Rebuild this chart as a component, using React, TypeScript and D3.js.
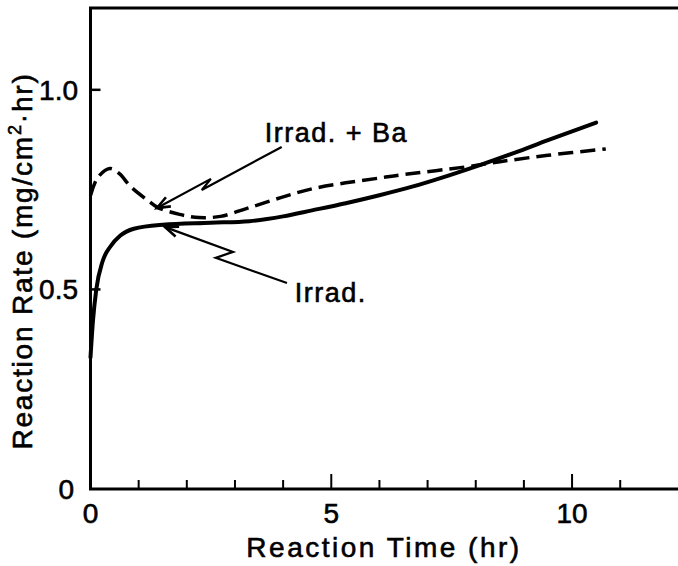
import React from "react";
import * as d3 from "d3";

// Irrad. (solid)
const irradT = [0, 0.05, 0.12, 0.25, 0.41, 0.62, 0.9, 1.5, 2.5, 3.3, 4.0, 4.6, 5.3, 6.0, 6.7, 7.4, 8.1, 8.8, 9.5, 10.5];
const irradV = [0.33, 0.42, 0.5, 0.57, 0.607, 0.635, 0.652, 0.662, 0.667, 0.671, 0.683, 0.698, 0.716, 0.736, 0.758, 0.784, 0.812, 0.842, 0.874, 0.918];

// Irrad. + Ba (dashed)
const baT = [0, 0.15, 0.4, 0.6, 0.83, 1.2, 1.4, 1.85, 2.25, 2.7, 3.25, 3.95, 4.6, 5.3, 6.0, 6.45, 7.8, 8.5, 9.5, 10.7];
const baV = [0.735, 0.78, 0.803, 0.79, 0.758, 0.722, 0.705, 0.688, 0.68, 0.683, 0.703, 0.73, 0.752, 0.767, 0.779, 0.787, 0.807, 0.82, 0.836, 0.852];

const xTicks = [0, 1, 2, 3, 4, 5, 6, 7, 8, 9, 10, 11];
const xLabels = [0, 5, 10];
const yTicks = [0.5, 1.0];
const yLabels = ["0", "0.5", "1.0"];
const yLabelVals = [0, 0.5, 1.0];

// annotation arrows (data coords): start, zig, zag, tip
const arrowBa = [[3.97, 0.857], [2.31, 0.749], [2.5, 0.777], [1.38, 0.704]];
const arrowIrr = [[4.08, 0.516], [2.6, 0.579], [2.96, 0.594], [1.55, 0.656]];
const labelBa = { t: 3.62, v: 0.869, text: "Irrad. + Ba" };
const labelIrr = { t: 4.24, v: 0.468, text: "Irrad." };

const W = 678;
const H = 566;
const font = "'Liberation Sans', Arial, sans-serif";

export default function App() {
  const x = d3.scaleLinear().domain([0, 12.2]).range([90.5, 678]);
  const y = d3.scaleLinear().domain([0, 1.205]).range([489, 8]);

  const solidLine = d3
    .line<[number, number]>()
    .x((d) => x(d[0]))
    .y((d) => y(d[1]))
    .curve(d3.curveMonotoneX);

  const dashLine = d3
    .line<[number, number]>()
    .x((d) => x(d[0]))
    .y((d) => y(d[1]))
    .curve(d3.curveCatmullRom.alpha(0.5));

  const irrad = irradT.map((t, i) => [t, irradV[i]] as [number, number]);
  const ba = baT.map((t, i) => [t, baV[i]] as [number, number]);

  const arrow = (pts: number[][], key: string) => {
    const px = pts.map((p) => [x(p[0]), y(p[1])]);
    const tip = px[px.length - 1];
    const prev = px[px.length - 2];
    const ang = Math.atan2(tip[1] - prev[1], tip[0] - prev[0]);
    const len = 14;
    const spread = 0.38;
    const h1 = [tip[0] - len * Math.cos(ang - spread), tip[1] - len * Math.sin(ang - spread)];
    const h2 = [tip[0] - len * Math.cos(ang + spread), tip[1] - len * Math.sin(ang + spread)];
    return (
      <g key={key} fill="none" stroke="#000" strokeWidth={2.2} strokeLinejoin="miter">
        <path d={"M" + px.map((p) => p.join(",")).join("L")} />
        <path d={`M${h1[0]},${h1[1]}L${tip[0]},${tip[1]}L${h2[0]},${h2[1]}`} strokeWidth={2.6} />
      </g>
    );
  };

  const x0 = x(0);
  const y0 = y(0);

  return (
    <svg
      width={W}
      height={H}
      style={{ position: "absolute", left: 0, top: 0, background: "#fff" }}
      fontFamily={font}
    >
      <rect width={W} height={H} fill="#fff" />

      {/* frame: left, bottom, top */}
      <g stroke="#000" strokeWidth={3} fill="none">
        <line x1={x0} y1={y(1.205)} x2={x0} y2={y0} />
        <line x1={x0 - 1.5} y1={y0} x2={W} y2={y0} />
        <line x1={x0 - 1.5} y1={y(1.205)} x2={W} y2={y(1.205)} />
      </g>

      {/* x ticks (inward) */}
      <g stroke="#000" strokeWidth={2}>
        {xTicks.slice(1).map((t) => (
          <line key={t} x1={x(t)} x2={x(t)} y1={y0} y2={y0 - (t % 5 === 0 ? 15 : 9)} />
        ))}
      </g>
      {/* y ticks */}
      <g stroke="#000" strokeWidth={2.5}>
        {yTicks.map((v) => (
          <line key={v} x1={x0} x2={x0 + 10} y1={y(v)} y2={y(v)} />
        ))}
      </g>

      <g stroke="#000" strokeWidth={0.6} fill="#000">
        {/* tick labels */}
        <g fontSize={28}>
          {xLabels.map((t) => (
            <text key={t} x={x(t)} y={523} textAnchor="middle">
              {t}
            </text>
          ))}
          {yLabels.map((s, i) => (
            <text key={s} x={i === 0 ? 74 : 78} y={y(yLabelVals[i]) + 10} textAnchor="end">
              {s}
            </text>
          ))}
        </g>

        {/* axis titles */}
        <text x={384} y={557} textAnchor="middle" fontSize={28} letterSpacing={2.5}>
          Reaction Time (hr)
        </text>
        <text
          transform="translate(32,261) rotate(-90)"
          textAnchor="middle"
          fontSize={28}
          letterSpacing={1.8}
        >
          Reaction Rate (mg/cm
          <tspan fontSize={18} dy={-11}>2</tspan>
          <tspan dy={11}>·hr)</tspan>
        </text>

        {/* annotation labels */}
        <g fontSize={27} letterSpacing={1.5}>
          <text x={x(labelBa.t)} y={y(labelBa.v)}>{labelBa.text}</text>
          <text x={x(labelIrr.t)} y={y(labelIrr.v)}>{labelIrr.text}</text>
        </g>
      </g>

      {/* curves */}
      <path d={solidLine(irrad) || ""} fill="none" stroke="#000" strokeWidth={4} strokeLinecap="round" />
      <path
        d={dashLine(ba) || ""}
        fill="none"
        stroke="#000"
        strokeWidth={3.5}
        strokeDasharray="15,7"
      />

      {/* annotations */}
      {arrow(arrowBa, "ba")}
      {arrow(arrowIrr, "irr")}
    </svg>
  );
}
